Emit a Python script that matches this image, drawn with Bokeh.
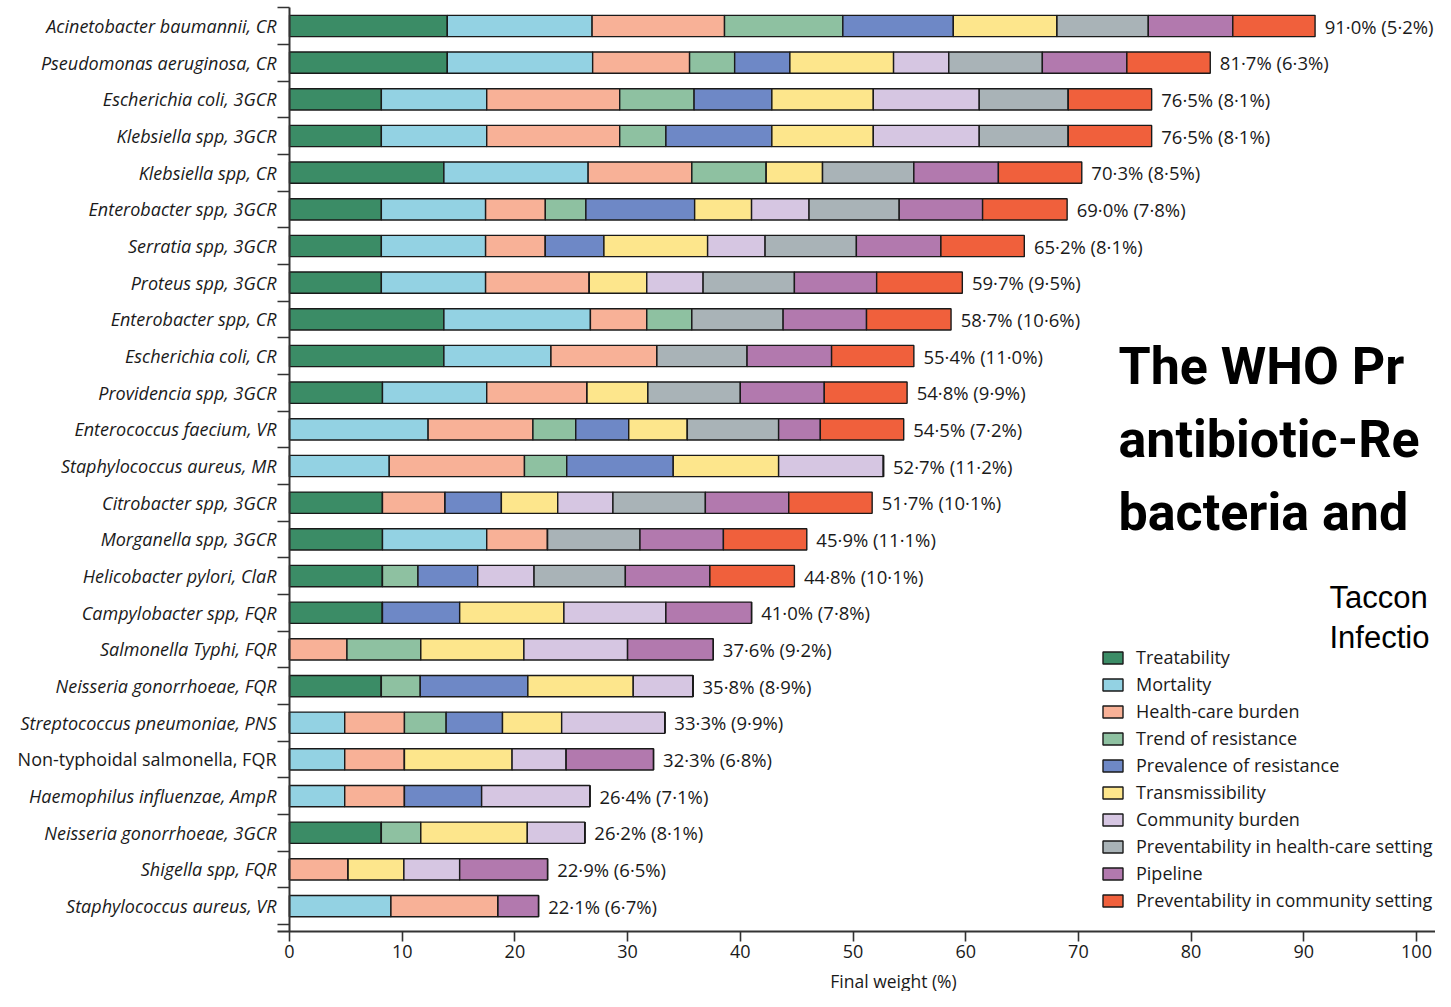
from bokeh.plotting import figure
from bokeh.models import Range1d, FixedTicker, Legend, LegendItem, Label, ColumnDataSource
from bokeh.core.properties import value, field
from bokeh.embed import file_html
from bokeh.resources import INLINE

# ---------------- data ----------------
pathogens = [
    "Acinetobacter baumannii, CR", "Pseudomonas aeruginosa, CR", "Escherichia coli, 3GCR",
    "Klebsiella spp, 3GCR", "Klebsiella spp, CR", "Enterobacter spp, 3GCR", "Serratia spp, 3GCR",
    "Proteus spp, 3GCR", "Enterobacter spp, CR", "Escherichia coli, CR", "Providencia spp, 3GCR",
    "Enterococcus faecium, VR", "Staphylococcus aureus, MR", "Citrobacter spp, 3GCR",
    "Morganella spp, 3GCR", "Helicobacter pylori, ClaR", "Campylobacter spp, FQR",
    "Salmonella Typhi, FQR", "Neisseria gonorrhoeae, FQR", "Streptococcus pneumoniae, PNS",
    "Non-typhoidal salmonella, FQR", "Haemophilus influenzae, AmpR", "Neisseria gonorrhoeae, 3GCR",
    "Shigella spp, FQR", "Staphylococcus aureus, VR",
]
label_style = ["italic"] * 20 + ["normal"] + ["italic"] * 4

final_labels = [
    "91·0% (5·2%)", "81·7% (6·3%)", "76·5% (8·1%)", "76·5% (8·1%)", "70·3% (8·5%)",
    "69·0% (7·8%)", "65·2% (8·1%)", "59·7% (9·5%)", "58·7% (10·6%)", "55·4% (11·0%)",
    "54·8% (9·9%)", "54·5% (7·2%)", "52·7% (11·2%)", "51·7% (10·1%)", "45·9% (11·1%)",
    "44·8% (10·1%)", "41·0% (7·8%)", "37·6% (9·2%)", "35·8% (8·9%)", "33·3% (9·9%)",
    "32·3% (6·8%)", "26·4% (7·1%)", "26·2% (8·1%)", "22·9% (6·5%)", "22·1% (6·7%)",
]

criteria = ["Treatability", "Mortality", "Health-care burden", "Trend of resistance",
            "Prevalence of resistance", "Transmissibility", "Community burden",
            "Preventability in health-care setting", "Pipeline",
            "Preventability in community setting"]

treatability   = [14.0, 14.0, 8.15, 8.15, 13.7, 8.15, 8.15, 8.15, 13.7, 13.7, 8.25, 0, 0, 8.25, 8.25, 8.25, 8.25, 0, 8.15, 0, 0, 0, 8.15, 0, 0]
mortality      = [12.85, 12.9, 9.35, 9.35, 12.8, 9.25, 9.25, 9.25, 13.0, 9.5, 9.25, 12.3, 8.85, 0, 9.25, 0, 0, 0, 0, 4.9, 4.9, 4.9, 0, 0, 9.0]
hc_burden      = [11.75, 8.6, 11.8, 11.8, 9.2, 5.3, 5.3, 9.2, 5.0, 9.4, 8.9, 9.3, 12.0, 5.55, 5.4, 0, 0, 5.1, 0, 5.3, 5.3, 5.3, 0, 5.2, 9.5]
trend          = [10.5, 4.0, 6.6, 4.1, 6.6, 3.6, 0, 0, 4.0, 0, 0, 3.8, 3.75, 0, 0, 3.15, 0, 6.55, 3.45, 3.7, 0, 0, 3.5, 0, 0]
prevalence     = [9.8, 4.9, 6.9, 9.4, 0, 9.65, 5.2, 0, 0, 0, 0, 4.7, 9.45, 5.0, 0, 5.3, 6.85, 0, 9.55, 5.0, 0, 6.85, 0, 0, 0]
transmissib    = [9.2, 9.2, 9.0, 9.0, 5.0, 5.05, 9.2, 5.1, 0, 0, 5.4, 5.2, 9.35, 5.0, 0, 0, 9.25, 9.15, 9.35, 5.25, 9.55, 0, 9.45, 4.95, 0]
community      = [0, 4.9, 9.4, 9.4, 0, 5.1, 5.1, 5.0, 0, 0, 0, 0, 9.3, 4.9, 0, 5.0, 9.05, 9.2, 5.3, 9.15, 4.8, 9.6, 5.1, 4.95, 0]
prev_hc        = [8.1, 8.3, 7.9, 7.9, 8.1, 8.0, 8.1, 8.1, 8.1, 8.0, 8.2, 8.1, 0, 8.2, 8.2, 8.1, 0, 0, 0, 0, 0, 0, 0, 0, 0]
pipeline       = [7.5, 7.5, 0, 0, 7.5, 7.4, 7.5, 7.3, 7.4, 7.5, 7.45, 3.7, 0, 7.4, 7.4, 7.5, 7.6, 7.6, 0, 0, 7.75, 0, 0, 7.8, 3.6]
prev_community = [7.3, 7.4, 7.4, 7.4, 7.4, 7.5, 7.4, 7.6, 7.5, 7.3, 7.35, 7.4, 0, 7.4, 7.4, 7.5, 0, 0, 0, 0, 0, 0, 0, 0, 0]

colors = ["#3b8c66", "#93d2e3", "#f8b197", "#8ec1a1", "#6e88c6",
          "#fde68c", "#d6c6e2", "#a9b3b7", "#b279ae", "#f0603c"]

# ---------------- layout (canvas px) ----------------
W, H = 1435, 991
X0 = 289.0             # canvas x of value 0
PXU = 11.27            # px per % on x
ROW0 = 25.5            # canvas y of first row centre
ROWH = 36.67           # px per row
AXIS_Y = 931.0         # canvas y of the x axis line

def X(px):
    return (px - X0) / PXU

def Y(py):
    return (py - ROW0) / ROWH

keys = ["c%d" % i for i in range(10)]
series = [treatability, mortality, hc_burden, trend, prevalence, transmissib,
          community, prev_hc, pipeline, prev_community]
rows = list(range(len(pathogens)))
data = {"row": rows, "name": pathogens, "style": label_style, "final": final_labels}
for k, s in zip(keys, series):
    data[k] = s
totals = [sum(s[i] for s in series) for i in rows]
data["label_x"] = [t + 0.85 for t in totals]
source = ColumnDataSource(data)

p = figure(width=W, height=H, output_backend="svg", toolbar_location=None,
           x_range=Range1d(X(0), X(W)), y_range=Range1d(Y(H), Y(0)),
           min_border_left=0, min_border_right=0, min_border_top=0, min_border_bottom=0)
p.outline_line_color = None
p.xgrid.visible = False
p.ygrid.visible = False
p.background_fill_color = "white"
p.border_fill_color = "white"

renderers = p.hbar_stack(keys, y="row", height=0.58, color=colors, source=source,
                         line_color="#1a1a1a", line_width=1.4)

# category labels
p.text(x=X(276), y="row", text="name", source=source, text_align="right",
       text_baseline="middle", text_font=value("Open Sans"),
       text_font_style=field("style"), text_font_size="18px", text_color="#1a1a1a")
# value labels
p.text(x="label_x", y="row", text="final", source=source, text_align="left",
       text_baseline="middle", text_font=value("Open Sans"),
       text_font_size="18.5px", text_color="#1a1a1a")

# axes
yax = p.yaxis[0]
yax.fixed_location = 0
yax.ticker = FixedTicker(ticks=[], minor_ticks=[i - 0.5 for i in range(len(pathogens) + 1)])
yax.major_label_text_font_size = "0px"
yax.major_tick_line_color = None
yax.minor_tick_out = 12
yax.minor_tick_in = 0
yax.minor_tick_line_color = "#333333"
yax.minor_tick_line_width = 1.6
yax.axis_line_color = "#333333"
yax.axis_line_width = 2
yax.bounds = (-0.5, Y(AXIS_Y))

xax = p.xaxis[0]
xax.fixed_location = Y(AXIS_Y)
xax.ticker = FixedTicker(ticks=list(range(0, 101, 10)), minor_ticks=[])
xax.bounds = (X(277), X(1436))
xax.axis_line_color = "#333333"
xax.axis_line_width = 2
xax.major_tick_line_color = "#333333"
xax.major_tick_line_width = 1.6
xax.major_tick_out = 10
xax.major_tick_in = 0
xax.major_label_standoff = 3
xax.major_label_text_font = "Open Sans"
xax.major_label_text_font_size = "18px"
xax.major_label_text_color = "#1a1a1a"

p.add_layout(Label(x=X(893), y=Y(980), text="Final weight (%)", text_font="Open Sans",
                   text_font_size="17.5px", text_align="center", text_baseline="middle",
                   text_color="#1a1a1a"))

# legend
legend = Legend(items=[LegendItem(label=c, renderers=[r]) for c, r in zip(criteria, renderers)],
                location=(1100, 79), padding=0, margin=0, spacing=3,
                glyph_width=25, glyph_height=15, label_standoff=11, label_height=24,
                label_text_font="Open Sans", label_text_font_size="18px",
                label_text_color="#1a1a1a", border_line_color=None,
                background_fill_alpha=0)
p.add_layout(legend)

# slide overlay texts
for txt, by in [("The WHO Pr", 366), ("antibiotic-Re", 439), ("bacteria and", 512)]:
    p.add_layout(Label(x=X(1118), y=Y(by), text=txt, text_font="Roboto",
                       text_font_style="bold", text_font_size="52px",
                       text_baseline="alphabetic", text_color="black"))
for txt, by in [("Taccon", 597), ("Infectio", 637)]:
    p.add_layout(Label(x=X(1329), y=Y(by), text=txt, text_font="Liberation Sans",
                       text_font_size="31px", text_baseline="alphabetic", text_color="black"))

open("out.html", "w").write(file_html(p, INLINE))
